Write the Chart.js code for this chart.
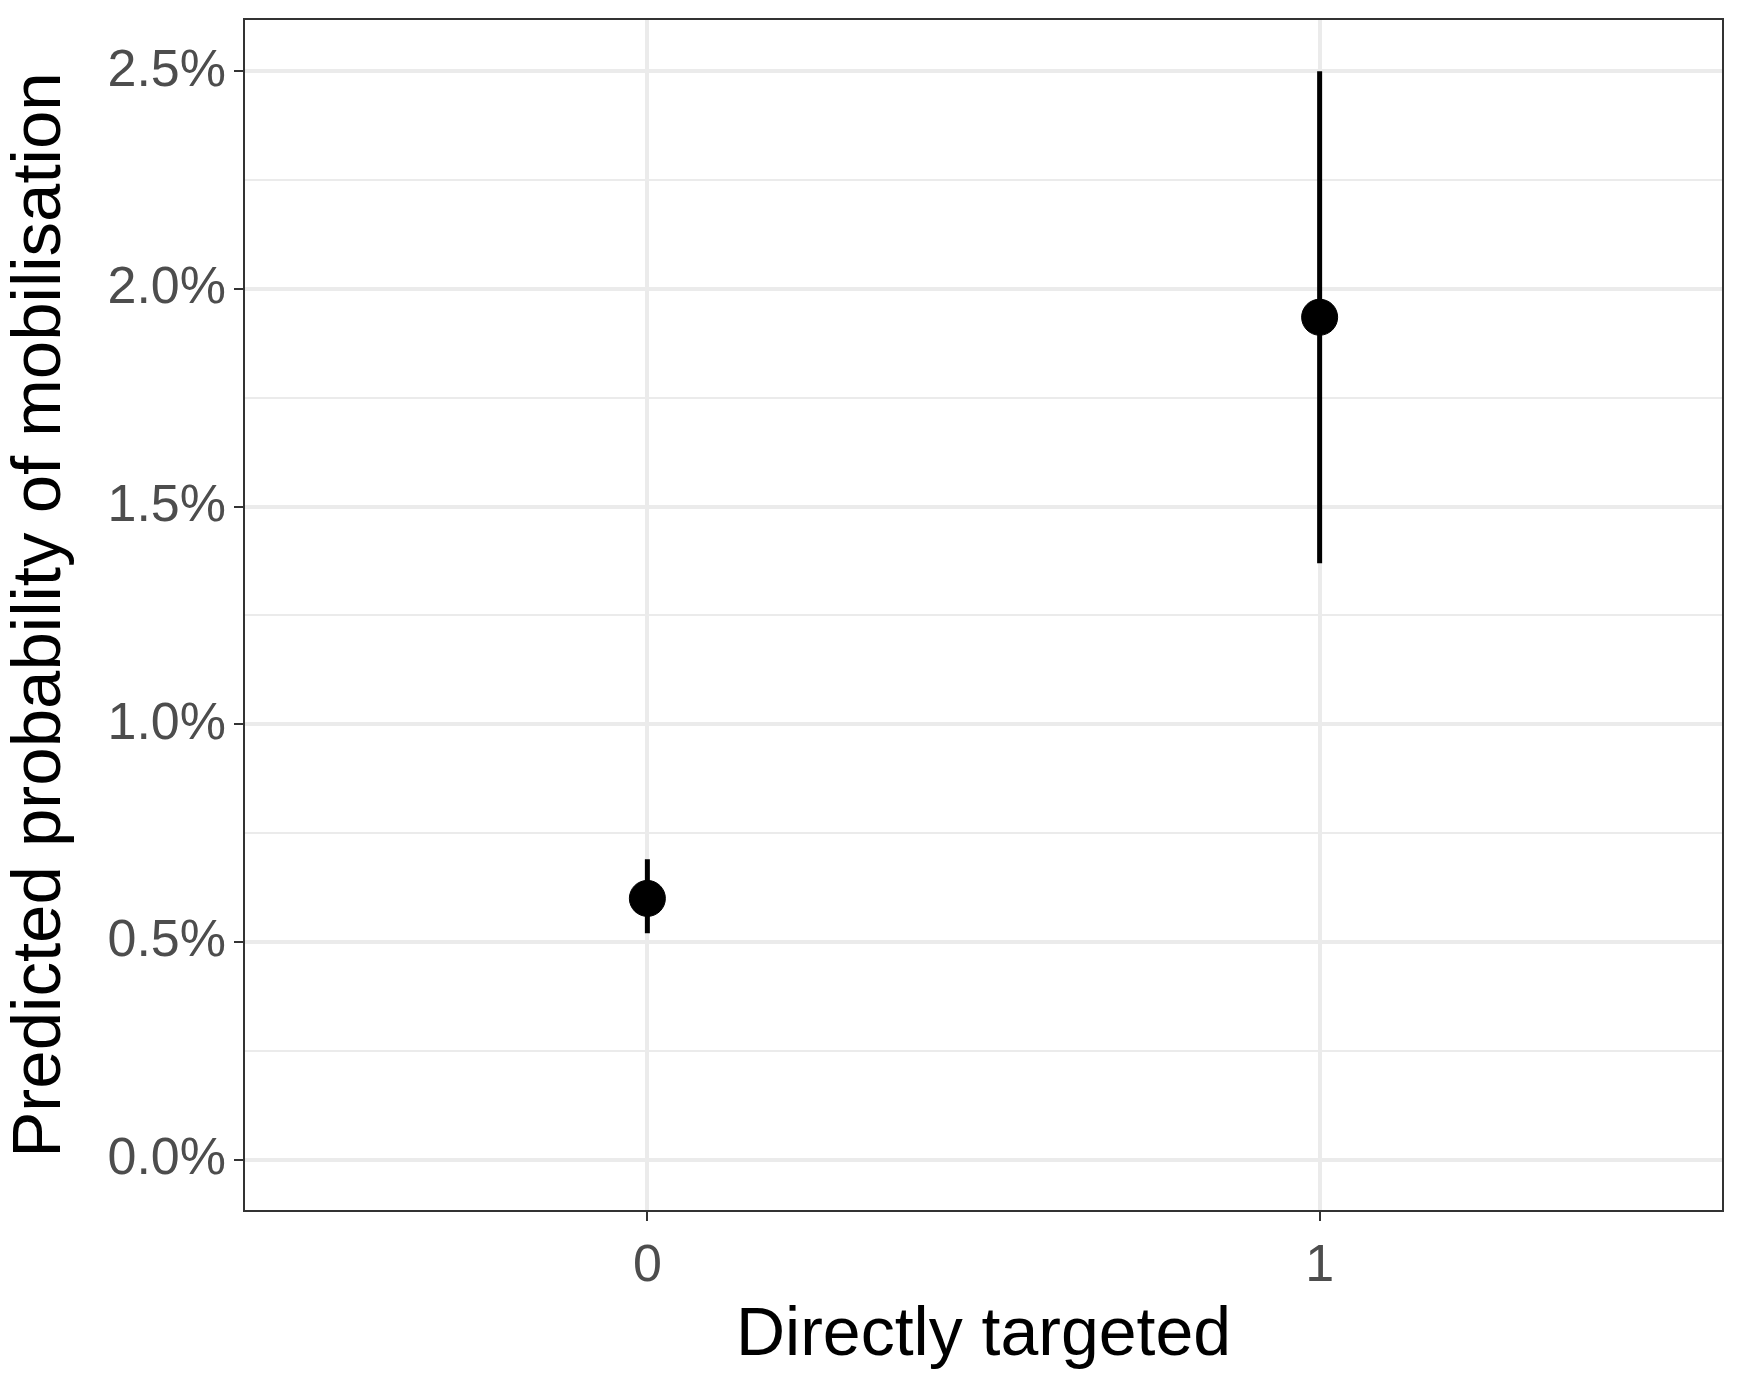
<!DOCTYPE html>
<html><head><meta charset="utf-8">
<script src="https://cdn.jsdelivr.net/npm/chart.js@4"></script>
<style>html,body{margin:0;padding:0;background:#fff}#wrap{width:1742px;height:1381px}</style>
</head><body><div id="wrap"><canvas id="c"></canvas></div>
<script>
// Predicted probability (%) by directly targeted
const groups = [0, 1];
const estimates = [0.60, 1.935];
const lower = [0.52, 1.37];
const upper = [0.69, 2.50];
const yTicks = [0, 0.5, 1.0, 1.5, 2.0, 2.5];

const errorBars = {
  id: 'errorBars',
  beforeDatasetsDraw(chart) {
    const {ctx, scales: {x, y}} = chart;
    ctx.save();
    ctx.strokeStyle = '#000';
    ctx.lineWidth = 5;
    groups.forEach((g, i) => {
      const px = x.getPixelForValue(g);
      ctx.beginPath();
      ctx.moveTo(px, y.getPixelForValue(lower[i]));
      ctx.lineTo(px, y.getPixelForValue(upper[i]));
      ctx.stroke();
    });
    ctx.restore();
  },
  afterDraw(chart) {
    const {ctx, chartArea: a} = chart;
    ctx.save();
    ctx.strokeStyle = '#333';
    ctx.lineWidth = 2;
    ctx.strokeRect(a.left, a.top, a.right - a.left, a.bottom - a.top);
    ctx.restore();
  }
};

new Chart(document.getElementById('c'), {
  type: 'scatter',
  data: {
    datasets: [{
      data: groups.map((g, i) => ({x: g, y: estimates[i]})),
      backgroundColor: '#000', borderColor: '#000',
      pointRadius: 18, pointHoverRadius: 18
    }]
  },
  options: {
    responsive: true, maintainAspectRatio: false, animation: false,
    layout: {padding: {top: 9, right: 5}},
    plugins: {legend: {display: false}, tooltip: {enabled: false}},
    scales: {
      x: {
        type: 'linear', min: -0.6, max: 1.6,
        afterBuildTicks: s => { s.ticks = groups.map(v => ({value: v})); },
        afterFit: s => { s.height = 170; s.paddingLeft = 0; s.paddingRight = 0; },
        border: {display: false},
        grid: {color: '#ebebeb', lineWidth: 4, tickColor: '#333', tickLength: 10, tickWidth: 2},
        ticks: {color: '#4d4d4d', font: {family: 'Liberation Sans', size: 52}, padding: 14},
        title: {display: true, text: 'Directly targeted', color: '#000',
                font: {family: 'Liberation Sans', size: 68}, padding: {top: 0}}
      },
      y: {
        min: -0.118, max: 2.62,
        afterBuildTicks: s => {
          const t = [];
          for (let v = 0; v <= 2.5001; v += 0.25) t.push({value: Math.round(v * 100) / 100});
          s.ticks = t;
        },
        afterFit: s => { s.width = 244; s.paddingTop = 0; s.paddingBottom = 0; },
        border: {display: false},
        grid: {
          color: '#ebebeb',
          lineWidth: c => (yTicks.includes(c.tick.value) ? 4 : 2),
          tickColor: c => (yTicks.includes(c.tick.value) ? '#333' : 'rgba(0,0,0,0)'),
          tickLength: 10, tickWidth: 2
        },
        ticks: {
          color: '#4d4d4d', font: {family: 'Liberation Sans', size: 52}, padding: 8,
          callback: v => (yTicks.includes(v) ? v.toFixed(1) + '%' : '')
        },
        title: {display: true, text: 'Predicted probability of mobilisation', color: '#000',
                font: {family: 'Liberation Sans', size: 69}, padding: {top: 0, bottom: 0}}
      }
    }
  },
  plugins: [errorBars]
});
</script></body></html>
